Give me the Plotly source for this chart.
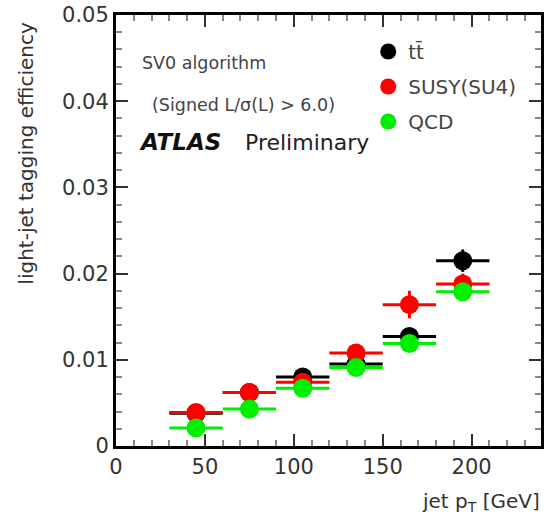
import plotly.graph_objects as go

# Jet pT bins (GeV): centres and half-widths
pt_centres = [45, 75, 105, 135, 165, 195]
pt_halfwidth = [15, 15, 15, 15, 15, 15]

# Light-jet tagging efficiency per sample
eff_ttbar = [0.0038, 0.0062, 0.0080, 0.0095, 0.0127, 0.0215]
err_ttbar = [0.0003, 0.0004, 0.0005, 0.0006, 0.0009, 0.0013]

eff_susy = [0.0039, 0.0062, 0.0074, 0.0108, 0.0164, 0.0188]
err_susy = [0.0004, 0.0005, 0.0006, 0.0008, 0.0016, 0.0012]

eff_qcd = [0.0021, 0.0043, 0.0067, 0.0091, 0.0119, 0.0179]
err_qcd = [0.0003, 0.0004, 0.0005, 0.0006, 0.0008, 0.0010]

samples = [
    ("tt\u0304", eff_ttbar, err_ttbar, "#000000"),
    ("SUSY(SU4)", eff_susy, err_susy, "#ff0000"),
    ("QCD", eff_qcd, err_qcd, "#00ee00"),
]

FONT = "DejaVu Sans"

fig = go.Figure()
for i, (name, eff, err, col) in enumerate(samples):
    fig.add_trace(go.Scatter(
        x=pt_centres, y=eff, name=name, mode="markers",
        legendgroup=f"g{i}",
        marker=dict(color=col, size=19, symbol="circle", line=dict(width=0)),
        error_x=dict(type="data", array=pt_halfwidth, color=col, thickness=3, width=0),
        error_y=dict(type="data", array=err, color=col, thickness=3, width=0),
    ))

axis_common = dict(
    showline=True, linecolor="black", linewidth=3, mirror="allticks",
    ticks="inside", ticklen=12, tickwidth=2, tickcolor="#333333",
    showgrid=False, zeroline=False,
    tickfont=dict(family=FONT, size=21, color="#333333"),
)

fig.update_xaxes(
    range=[0, 239], tickvals=[0, 50, 100, 150, 200],
    minor=dict(ticks="inside", dtick=10, ticklen=6, tickwidth=2, tickcolor="#888888"),
    **axis_common,
)
fig.update_yaxes(
    range=[0, 0.05], tickvals=[0, 0.01, 0.02, 0.03, 0.04, 0.05],
    ticktext=["0", "0.01", "0.02", "0.03", "0.04", "0.05"],
    minor=dict(ticks="inside", dtick=0.002, ticklen=6, tickwidth=2, tickcolor="#888888"),
    **axis_common,
)

annotations = [
    dict(text="SV0 algorithm", x=140, y=63, xanchor="left", size=17.5, color="#444444"),
    dict(text="(Signed L/\u03c3(L) > 6.0)", x=150, y=105, xanchor="left", size=17.5, color="#444444"),
    dict(text="<b><i>ATLAS</i></b>", x=137, y=142, xanchor="left", size=23, color="#111111"),
    dict(text="Preliminary", x=244, y=142, xanchor="left", size=22, color="#222222"),
    dict(text="jet p<sub>T</sub> [GeV]", x=545, y=502, xanchor="right", size=20, color="#333333"),
]

W, H = 546, 523
L, R, T, B = 116, 2, 15, 77
pw, ph = W - L - R, H - T - B


def to_paper(px, py):
    return (px - L) / pw, (H - B - py) / ph


for a in annotations:
    xp, yp = to_paper(a["x"], a["y"])
    fig.add_annotation(
        text=a["text"], x=xp, y=yp, xref="paper", yref="paper",
        xanchor=a["xanchor"], yanchor="middle", showarrow=False,
        font=dict(family=FONT, size=a["size"], color=a["color"]),
    )

# Vertical y-axis title, set towards the top of the axis
xp, yp = to_paper(25, 153)
fig.add_annotation(
    text="light-jet tagging efficiency", x=xp, y=yp, xref="paper", yref="paper",
    xanchor="center", yanchor="middle", textangle=-90, showarrow=False,
    font=dict(family=FONT, size=20, color="#333333"),
)

lx, ly = to_paper(370, 32)
fig.update_layout(
    width=W, height=H,
    margin=dict(l=L, r=R, t=T, b=B),
    paper_bgcolor="white", plot_bgcolor="white",
    showlegend=True,
    legend=dict(
        x=lx, y=ly, xanchor="left", yanchor="top",
        bgcolor="rgba(0,0,0,0)", borderwidth=0,
        font=dict(family=FONT, size=20, color="#444444"),
        traceorder="grouped", tracegroupgap=6, itemsizing="trace",
    ),
)

fig.write_html("out.html")
